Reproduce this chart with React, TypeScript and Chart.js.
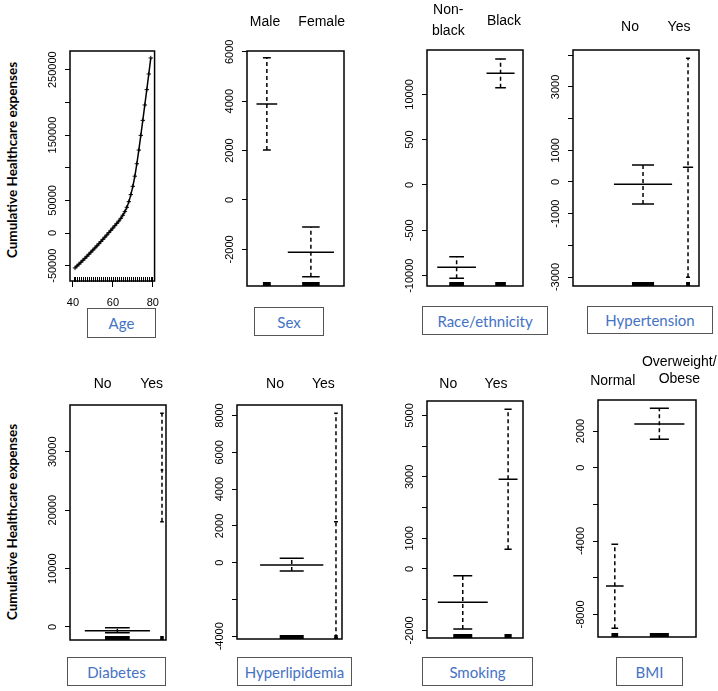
import React, { useEffect, useRef } from "react";
import { Chart, registerables } from "chart.js";
Chart.register(...registerables);

// ---------------- DATA ----------------
const yTitle = "Cumulative Healthcare expenses";

// Age (continuous term)
const ages = [41, 42, 43, 44, 45, 46, 47, 48, 49, 50, 51, 52, 53, 54, 55, 56, 57, 58, 59, 60, 61, 62, 63, 64, 65, 66, 67, 68, 69, 70, 71, 72, 73, 74, 75, 76, 77, 78, 79];
const ageEffect = [-53500, -50600, -47700, -44700, -41700, -38700, -35600, -32500, -29300, -26100, -22900, -19700, -16400, -13100, -9700, -6300, -2900, 600, 4100, 7600, 11200, 14800, 18400, 22500, 27200, 32700, 39400, 48000, 58800, 71500, 87000, 106000, 127000, 149500, 172500, 196000, 219500, 243500, 268000];
const ageYTicks = [-50000, 0, 50000, 100000, 150000, 200000, 250000];
const ageYTickLabels = ["-50000", "0", "50000", "", "150000", "", "250000"];
const ageXTicks = [40, 60, 80];

// Sex
const sexLevels = ["Male", "Female"];
const sexMean = [3890, -2117];
const sexLower = [2024, -3105];
const sexUpper = [5761, -1093];
const sexShare = [0.31, 0.69];
const sexTicks = [-2000, 0, 2000, 4000, 6000];
const sexTickLabels = ["-2000", "0", "2000", "4000", "6000"];

// Race/ethnicity
const raceLevels = ["Non-\nblack", "Black"];
const raceMean = [-9078, 12320];
const raceLower = [-10290, 10735];
const raceUpper = [-7908, 13897];
const raceShare = [0.58, 0.42];
const raceTicks = [-10000, -5000, 0, 5000, 10000];
const raceTickLabels = ["-10000", "-500", "0", "500", "10000"];

// Hypertension
const hypLevels = ["No", "Yes"];
const hypMean = [-73, 464];
const hypLower = [-695, -3009];
const hypUpper = [537, 3906];
const hypShare = [0.85, 0.15];
const hypTicks = [-3000, -2000, -1000, 0, 1000, 2000, 3000, 4000];
const hypTickLabels = ["-3000", "", "-1000", "0", "1000", "", "3000", ""];

// Diabetes
const diabLevels = ["No", "Yes"];
const diabMean = [-634, 26880];
const diabLower = [-975, 18030];
const diabUpper = [-120, 36590];
const diabShare = [0.96, 0.04];
const diabTicks = [0, 10000, 20000, 30000];
const diabTickLabels = ["0", "10000", "20000", "30000"];

// Hyperlipidemia
const lipLevels = ["No", "Yes"];
const lipMean = [-125, 2228];
const lipLower = [-451, -4108];
const lipUpper = [239, 8120];
const lipShare = [0.94, 0.06];
const lipTicks = [-4000, -2000, 0, 2000, 4000, 6000, 8000];
const lipTickLabels = ["-4000", "", "0", "2000", "4000", "6000", "8000"];

// Smoking
const smokeLevels = ["No", "Yes"];
const smokeMean = [-1085, 2922];
const smokeLower = [-1954, 642];
const smokeUpper = [-218, 5202];
const smokeShare = [0.725, 0.275];
const smokeTicks = [-2000, -1000, 0, 1000, 2000, 3000, 4000, 5000];
const smokeTickLabels = ["-2000", "", "0", "1000", "", "3000", "", "5000"];

// BMI
const bmiLevels = ["Normal", "Overweight/\nObese"];
const bmiMean = [-6455, 2385];
const bmiLower = [-8764, 1550];
const bmiUpper = [-4180, 3241];
const bmiShare = [0.26, 0.74];
const bmiTicks = [-8000, -6000, -4000, -2000, 0, 2000];
const bmiTickLabels = ["-8000", "", "-4000", "", "0", "2000"];

// ---------------- LAYOUT ----------------
type Box = { l: number; t: number; r: number; b: number };
type CatPanel = {
  key: string;
  box: Box;
  yMin: number; yMax: number; xMin: number; xMax: number;
  levels: string[]; mean: number[]; lower: number[]; upper: number[]; share: number[];
  ticks: number[]; tickLabels: string[];
  name: string; nameBox: Box;
  levelPos: { x: number; y: number; lh: number }[];
};

const catPanels: CatPanel[] = [
  { key: "sex", box: { l: 247, t: 51, r: 344, b: 286 }, yMin: -3482, yMax: 6032, xMin: 0.549, xMax: 2.752,
    levels: sexLevels, mean: sexMean, lower: sexLower, upper: sexUpper, share: sexShare, ticks: sexTicks, tickLabels: sexTickLabels,
    name: "Sex", nameBox: { l: 254, t: 307, r: 324, b: 336 },
    levelPos: [{ x: 265, y: 20.7, lh: 20 }, { x: 321.7, y: 20.7, lh: 20 }] },
  { key: "race", box: { l: 427, t: 50, r: 523, b: 286 }, yMin: -11140, yMax: 14890, xMin: 0.326, xMax: 2.511,
    levels: raceLevels, mean: raceMean, lower: raceLower, upper: raceUpper, share: raceShare, ticks: raceTicks, tickLabels: raceTickLabels,
    name: "Race/ethnicity", nameBox: { l: 422, t: 306, r: 548, b: 335 },
    levelPos: [{ x: 448.3, y: 20.3, lh: 20.7 }, { x: 504, y: 20, lh: 20 }] },
  { key: "hyp", box: { l: 573, t: 50, r: 699, b: 286 }, yMin: -3284, yMax: 4168, xMin: -0.556, xMax: 2.244,
    levels: hypLevels, mean: hypMean, lower: hypLower, upper: hypUpper, share: hypShare, ticks: hypTicks, tickLabels: hypTickLabels,
    name: "Hypertension", nameBox: { l: 587, t: 306, r: 713, b: 334 },
    levelPos: [{ x: 630, y: 25.7, lh: 20 }, { x: 679, y: 25.7, lh: 20 }] },
  { key: "diab", box: { l: 70, t: 405, r: 166, b: 640 }, yMin: -2226, yMax: 38010, xMin: -0.061, xMax: 2.09,
    levels: diabLevels, mean: diabMean, lower: diabLower, upper: diabUpper, share: diabShare, ticks: diabTicks, tickLabels: diabTickLabels,
    name: "Diabetes", nameBox: { l: 67, t: 657, r: 166, b: 686 },
    levelPos: [{ x: 102.7, y: 383.3, lh: 20 }, { x: 151.7, y: 383.3, lh: 20 }] },
  { key: "lip", box: { l: 237, t: 405, r: 342, b: 639 }, yMin: -4147, yMax: 8571, xMin: -0.236, xMax: 2.136,
    levels: lipLevels, mean: lipMean, lower: lipLower, upper: lipUpper, share: lipShare, ticks: lipTicks, tickLabels: lipTickLabels,
    name: "Hyperlipidemia", nameBox: { l: 237, t: 657, r: 352, b: 686 },
    levelPos: [{ x: 275, y: 383.3, lh: 20 }, { x: 323.3, y: 383.3, lh: 20 }] },
  { key: "smoke", box: { l: 427, t: 401, r: 523, b: 638 }, yMin: -2248, yMax: 5472, xMin: 0.211, xMax: 2.329,
    levels: smokeLevels, mean: smokeMean, lower: smokeLower, upper: smokeUpper, share: smokeShare, ticks: smokeTicks, tickLabels: smokeTickLabels,
    name: "Smoking", nameBox: { l: 422, t: 657, r: 533, b: 686 },
    levelPos: [{ x: 448.3, y: 383.3, lh: 20 }, { x: 496, y: 383.3, lh: 20 }] },
  { key: "bmi", box: { l: 598, t: 400, r: 696, b: 637 }, yMin: -9236, yMax: 3693, xMin: 0.623, xMax: 2.822,
    levels: bmiLevels, mean: bmiMean, lower: bmiLower, upper: bmiUpper, share: bmiShare, ticks: bmiTicks, tickLabels: bmiTickLabels,
    name: "BMI", nameBox: { l: 616, t: 657, r: 683, b: 686 },
    levelPos: [{ x: 612.7, y: 380, lh: 20 }, { x: 679.3, y: 370, lh: 16.6 }] },
];

const ageBox: Box = { l: 70, t: 51, r: 163, b: 281 };
const ageNameBox: Box = { l: 87, t: 308, r: 156, b: 338 };

const PAD_L = 35;
const PAD = 5;
const PAD_V = 24;
const TICK_FONT = '11px "Liberation Sans", Arial, sans-serif';
const LABEL_FONT = '14px "Liberation Sans", Arial, sans-serif';
const NAME_FONT = '15px Lato, "Open Sans", sans-serif';
const BLUE = "#4472C4";

// plugin: box, rotated tick labels, rug
const decoPlugin = {
  id: "deco",
  afterDraw(chart: any, _args: any, opts: any) {
    const { ctx, chartArea: a } = chart;
    const xs = chart.scales.x;
    const ys = chart.scales.y;
    ctx.save();
    ctx.fillStyle = "#000";
    ctx.strokeStyle = "#000";
    if (opts.rugBars) {
      opts.rugBars.forEach((r: { x: number; hw: number }) => {
        const x0 = xs.getPixelForValue(r.x - r.hw);
        const x1 = xs.getPixelForValue(r.x + r.hw);
        ctx.fillRect(x0, a.bottom - 4, Math.max(x1 - x0, 2), 4);
      });
    }
    if (opts.rugTicks) {
      ctx.lineWidth = 1;
      opts.rugTicks.forEach((v: number) => {
        const x = Math.round(xs.getPixelForValue(v)) + 0.5;
        ctx.beginPath();
        ctx.moveTo(x, a.bottom - 4);
        ctx.lineTo(x, a.bottom + 1);
        ctx.stroke();
      });
    }
    ctx.lineWidth = 1.5;
    ctx.strokeRect(a.left, a.top, a.right - a.left, a.bottom - a.top);
    ctx.font = TICK_FONT;
    ctx.fillStyle = "#000";
    ctx.textAlign = "center";
    ctx.textBaseline = "middle";
    (opts.ticks || []).forEach((v: number, i: number) => {
      const lab = opts.labels[i];
      if (!lab) return;
      const y = ys.getPixelForValue(v);
      ctx.save();
      ctx.translate(a.left - 17.5, y);
      ctx.rotate(-Math.PI / 2);
      ctx.fillText(lab, 0, 0);
      ctx.restore();
    });
    ctx.restore();
  },
};

function yScale(min: number, max: number, ticks: number[]) {
  return {
    type: "linear" as const,
    min,
    max,
    afterBuildTicks: (s: any) => {
      s.ticks = ticks.map((v) => ({ value: v }));
    },
    afterFit: (s: any) => {
      s.width = PAD_L;
    },
    ticks: { display: false },
    grid: { drawOnChartArea: false, drawTicks: true, tickLength: 5, color: "#000", lineWidth: 1 },
    border: { display: false },
  };
}

function CatChart({ p }: { p: CatPanel }) {
  const ref = useRef<HTMLCanvasElement | null>(null);
  const W = p.box.r - p.box.l + PAD_L + PAD;
  const H = p.box.b - p.box.t + 2 * PAD_V;
  useEffect(() => {
    if (!ref.current) return;
    const meanPts: any[] = [];
    const ciPts: any[] = [];
    const capPts: any[] = [];
    const rugBars: any[] = [];
    p.levels.forEach((_, i) => {
      const cx = i + 1;
      const hw = p.share[i] * 0.76;
      const ch = Math.max(hw * 0.38, 0.04);
      meanPts.push({ x: cx - hw, y: p.mean[i] }, { x: cx + hw, y: p.mean[i] }, { x: cx, y: null });
      ciPts.push({ x: cx, y: p.lower[i] }, { x: cx, y: p.upper[i] }, { x: cx, y: null });
      capPts.push(
        { x: cx - ch, y: p.lower[i] }, { x: cx + ch, y: p.lower[i] }, { x: cx, y: null },
        { x: cx - ch, y: p.upper[i] }, { x: cx + ch, y: p.upper[i] }, { x: cx, y: null }
      );
      rugBars.push({ x: cx, hw: ch });
    });
    const common = { showLine: true, spanGaps: false, pointRadius: 0, borderColor: "#000", borderWidth: 1.5, fill: false };
    const chart = new Chart(ref.current, {
      type: "scatter",
      data: {
        datasets: [
          { ...common, data: ciPts, borderDash: [4, 3] },
          { ...common, data: capPts },
          { ...common, data: meanPts },
        ] as any,
      },
      options: {
        animation: false,
        responsive: false,
        devicePixelRatio: 1,
        layout: { padding: { left: 0, right: PAD, top: PAD_V, bottom: PAD_V } },
        plugins: {
          legend: { display: false },
          tooltip: { enabled: false },
          deco: { ticks: p.ticks, labels: p.tickLabels, rugBars },
        } as any,
        scales: {
          x: { type: "linear", min: p.xMin, max: p.xMax, display: false },
          y: yScale(p.yMin, p.yMax, p.ticks) as any,
        },
      },
      plugins: [decoPlugin],
    });
    return () => chart.destroy();
  }, []);
  return (
    <canvas
      ref={ref}
      width={W}
      height={H}
      style={{ position: "absolute", left: p.box.l - PAD_L, top: p.box.t - PAD_V, width: W, height: H }}
    />
  );
}

function AgeChart() {
  const ref = useRef<HTMLCanvasElement | null>(null);
  const XAX = 30;
  const W = ageBox.r - ageBox.l + PAD_L + PAD;
  const H = ageBox.b - ageBox.t + PAD_V + XAX;
  useEffect(() => {
    if (!ref.current) return;
    const pts = ages.map((a, i) => ({ x: a, y: ageEffect[i] }));
    const chart = new Chart(ref.current, {
      type: "scatter",
      data: {
        datasets: [
          {
            data: pts,
            showLine: true,
            cubicInterpolationMode: "monotone",
            borderColor: "#000",
            borderWidth: 1.5,
            pointStyle: "cross",
            pointRadius: 2.2,
            pointBorderWidth: 1,
            pointBorderColor: "#000",
            fill: false,
          },
        ] as any,
      },
      options: {
        animation: false,
        responsive: false,
        devicePixelRatio: 1,
        layout: { padding: { left: 0, right: PAD, top: PAD_V, bottom: 0 } },
        plugins: {
          legend: { display: false },
          tooltip: { enabled: false },
          deco: { ticks: ageYTicks, labels: ageYTickLabels, rugTicks: ages.concat([40.5, 79.6]) },
        } as any,
        scales: {
          x: {
            type: "linear",
            min: 38.5,
            max: 80.9,
            afterBuildTicks: (s: any) => {
              s.ticks = ageXTicks.map((v) => ({ value: v }));
            },
            afterFit: (s: any) => {
              s.height = XAX;
            },
            ticks: { color: "#000", font: { family: '"Liberation Sans", Arial, sans-serif', size: 11 }, padding: 9, maxRotation: 0 },
            grid: { drawOnChartArea: false, drawTicks: true, tickLength: 6, color: "#000", lineWidth: 1 },
            border: { display: false },
          },
          y: yScale(-73500, 278700, ageYTicks) as any,
        },
      },
      plugins: [decoPlugin],
    });
    return () => chart.destroy();
  }, []);
  return (
    <canvas
      ref={ref}
      width={W}
      height={H}
      style={{ position: "absolute", left: ageBox.l - PAD_L, top: ageBox.t - PAD_V, width: W, height: H }}
    />
  );
}

function NameBox({ b, text }: { b: Box; text: string }) {
  return (
    <div
      style={{
        position: "absolute",
        left: b.l,
        top: b.t,
        width: b.r - b.l,
        height: b.b - b.t,
        boxSizing: "border-box",
        border: "1px solid #555",
        display: "flex",
        alignItems: "center",
        justifyContent: "center",
        font: NAME_FONT,
        color: BLUE,
        background: "#fff",
      }}
    >
      {text}
    </div>
  );
}

function TopLabel({ x, y, lh, text }: { x: number; y: number; lh: number; text: string }) {
  return (
    <div
      style={{
        position: "absolute",
        left: x,
        top: y,
        transform: "translate(-50%, -50%)",
        font: LABEL_FONT,
        lineHeight: lh + "px",
        whiteSpace: "pre",
        textAlign: "center",
        color: "#000",
      }}
    >
      {text}
    </div>
  );
}

function YTitle({ x, y }: { x: number; y: number }) {
  return (
    <div
      style={{
        position: "absolute",
        left: x,
        top: y,
        transform: "translate(-50%, -50%) rotate(-90deg)",
        whiteSpace: "nowrap",
        font: 'bold 13.5px Lato, "Open Sans", sans-serif',
        color: "#000",
      }}
    >
      {yTitle}
    </div>
  );
}

export default function App() {
  return (
    <div style={{ position: "absolute", left: 0, top: 0, width: 718, height: 691, background: "#fff", overflow: "hidden" }}>
      <YTitle x={11.7} y={160} />
      <YTitle x={11.7} y={521.7} />
      <AgeChart />
      <NameBox b={ageNameBox} text="Age" />
      {catPanels.map((p) => (
        <React.Fragment key={p.key}>
          <CatChart p={p} />
          <NameBox b={p.nameBox} text={p.name} />
          {p.levels.map((lv, i) => (
            <TopLabel key={i} x={p.levelPos[i].x} y={p.levelPos[i].y} lh={p.levelPos[i].lh} text={lv} />
          ))}
        </React.Fragment>
      ))}
    </div>
  );
}
